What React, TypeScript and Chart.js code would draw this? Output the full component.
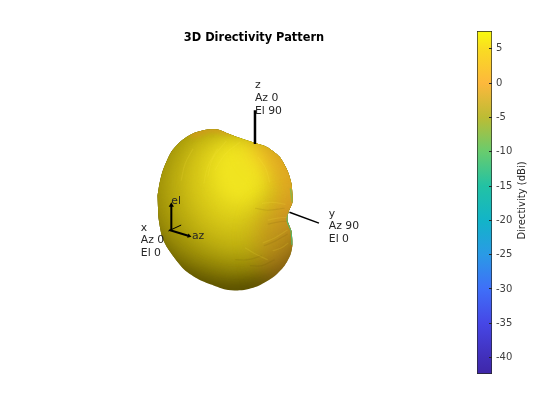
import React, { useEffect, useRef } from "react";
import { Chart, registerables } from "chart.js";

type P = [number, number];

const chartTitle = "3D Directivity Pattern";
const colorbarLabel = "Directivity (dBi)";
const dbMin = -42.4;
const dbMax = 7.6;
const tickValues = [-40, -35, -30, -25, -20, -15, -10, -5, 0, 5];
const colormapDb = [-42.4, -40, -35, -30, -25, -20, -15, -10, -5, 0, 5, 7.6];
const colormapColors = ["#3e26a8", "#412fba", "#4647e6", "#3f6ff8", "#2a9ae6", "#12b4c8", "#22c2a4", "#68cc6e", "#bcbc34", "#fdb83c", "#f9dc22", "#f9fb0e"];

const silhouette: P[] = [[156, 197], [156.5, 210], [157, 220], [161, 240], [168, 253], [183, 272], [198, 282], [213, 288], [225, 292], [240, 293], [257, 289], [273, 280], [285, 268], [291, 257], [293, 247], [292, 233], [288, 222], [289, 214], [293, 204], [292, 185], [288, 172], [280, 158], [267, 148], [255, 144], [238, 138.5], [226, 134], [217, 130.5], [207, 130.5], [193, 134], [180, 142], [170, 153], [161, 173], [158, 185]];

const shadeA: P[] = [[140, 195], [148, 230], [168, 262], [195, 276], [225, 284], [255, 280], [282, 264], [305, 240], [302, 170], [280, 140], [225, 120], [190, 120], [150, 155]];
const shadeB: P[] = [[142, 190], [158, 232], [178, 254], [210, 268], [245, 272], [275, 258], [305, 225], [305, 165], [280, 140], [225, 118], [190, 115], [148, 150]];
const shadeC: P[] = [[160, 185], [168, 218], [190, 244], [218, 258], [250, 260], [278, 244], [298, 205], [296, 165], [270, 142], [238, 128], [205, 126], [176, 142]];
const shadeD: P[] = [[176, 180], [184, 212], [206, 238], [238, 248], [268, 234], [286, 195], [276, 158], [248, 138], [216, 134], [190, 148]];
const shadeE: P[] = [[194, 175], [202, 206], [228, 226], [258, 216], [274, 180], [260, 150], [232, 140], [204, 150]];
const highlight: P[] = [[212, 168], [218, 194], [240, 206], [262, 190], [262, 160], [244, 146], [222, 150]];
const orangeTop: P[] = [[262, 136], [306, 160], [306, 222], [282, 224], [278, 192], [268, 168], [250, 148]];
const brownRight: P[] = [[262, 212], [304, 206], [304, 270], [270, 288], [260, 264], [256, 234]];
const orangeCap: P[] = [[186, 126], [232, 120], [234, 135], [210, 134], [190, 139]];

const greenEdge: P[] = [[290, 214], [288, 222], [292, 233], [293, 247]];
const greenTop: P[] = [[291, 190], [293, 204]];

const brightRipples: P[][] = [
  [[217, 150], [207, 168], [203, 185]],
  [[226, 142], [212, 160], [207, 178]],
  [[263, 245], [275, 240], [288, 232]],
  [[268, 222], [278, 220], [288, 219]],
  [[273, 253], [282, 250], [289, 245]],
  [[240, 143], [225, 155], [214, 172]],
  [[245, 250], [255, 256], [268, 262]],
  [[258, 158], [266, 170], [270, 184]],
  [[192, 150], [184, 165], [180, 182]],
  [[262, 205], [272, 204], [286, 206]],
];
const darkRipples: P[][] = [
  [[264, 248], [276, 243], [288, 236]],
  [[268, 226], [278, 224], [288, 223]],
  [[250, 268], [262, 268], [275, 262]],
  [[235, 262], [248, 262], [262, 258]],
  [[255, 210], [268, 212], [285, 210]],
];

const zAxisLine: P[] = [[255, 111], [255, 145]];
const yAxisLine: P[] = [[290, 214], [320, 225]];
const elArrow: P[] = [[170, 232], [170, 207]];
const azArrow: P[] = [[168, 232], [188, 238]];
const xStub: P[] = [[167, 233], [180, 227]];

const labelFont = "10.8px 'DejaVu Sans'";
const labels: { text: string; x: number; y: number }[] = [
  { text: "z", x: 255, y: 86 },
  { text: "Az 0", x: 255, y: 98.5 },
  { text: "El 90", x: 255, y: 111.5 },
  { text: "y", x: 330, y: 216 },
  { text: "Az 90", x: 330, y: 228.5 },
  { text: "El 0", x: 330, y: 241 },
  { text: "x", x: 139, y: 230 },
  { text: "Az 0", x: 139, y: 242.5 },
  { text: "El 0", x: 139, y: 255 },
  { text: "el", x: 170, y: 202.5 },
  { text: "az", x: 191, y: 238.5 },
];

const toXY = (pts: P[]) => pts.map(([x, y]) => ({ x, y }));

// must run before the filler plugin so that blur and clip apply to the fill
const shadePlugin = {
  id: "shadeClip",
  beforeDatasetDraw(chart: any, args: any) {
    const ds = chart.data.datasets[args.index];
    if (!ds.blur) return;
    const ctx = chart.ctx;
    ctx.save();
    ctx.beginPath();
    chart.getDatasetMeta(0).dataset.path(ctx);
    ctx.closePath();
    ctx.clip();
    ctx.filter = `blur(${ds.blur}px)`;
  },
  afterDatasetDraw(chart: any, args: any) {
    const ds = chart.data.datasets[args.index];
    if (!ds.blur) return;
    chart.ctx.restore();
  },
};

const labelPlugin = {
  id: "viewLabels",
  afterDatasetsDraw(chart: any) {
    const { x, y } = chart.scales;
    const ctx = chart.ctx;
    ctx.save();
    ctx.font = labelFont;
    ctx.fillStyle = "#262626";
    ctx.textBaseline = "middle";
    ctx.textAlign = "left";
    labels.forEach((l) => ctx.fillText(l.text, x.getPixelForValue(l.x), y.getPixelForValue(l.y)));
    ctx.restore();
  },
};

const colorbarTitlePlugin = {
  id: "colorbarTitle",
  afterDraw(chart: any) {
    const ctx = chart.ctx;
    const { y } = chart.scales;
    ctx.save();
    ctx.translate(52, (y.top + y.bottom) / 2 - 2);
    ctx.rotate(-Math.PI / 2);
    ctx.font = "10px 'DejaVu Sans'";
    ctx.fillStyle = "#262626";
    ctx.textAlign = "center";
    ctx.textBaseline = "middle";
    ctx.fillText(colorbarLabel, 0, 0);
    ctx.restore();
  },
};

Chart.register(shadePlugin);
Chart.register(...registerables);

const fillSet = (pts: P[], color: string, blur: number, tension = 0.35) => ({
  data: toXY([...pts, pts[0]]),
  backgroundColor: color,
  borderWidth: 0,
  pointRadius: 0,
  showLine: true,
  fill: "shape",
  tension,
  blur,
});
const strokeSet = (pts: P[], color: string, width: number, blur = 0) => ({
  data: toXY(pts),
  borderColor: color,
  borderWidth: width,
  pointRadius: 0,
  showLine: true,
  fill: false,
  tension: 0.4,
  blur,
});

export default function App() {
  const mainRef = useRef<HTMLCanvasElement>(null);
  const barRef = useRef<HTMLCanvasElement>(null);

  useEffect(() => {
    const layers: any[] = [
      fillSet(silhouette, "#5c5200", 0, 0.25),
      fillSet(shadeA, "#7c7004", 7),
      fillSet(shadeB, "#9c8e08", 8),
      fillSet(shadeC, "#b4a60e", 9),
      fillSet(shadeD, "#ccbc14", 9),
      fillSet(shadeE, "#e0d21a", 9),
      fillSet(highlight, "#f0e420", 8),
      fillSet(orangeTop, "rgba(255,165,50,0.58)", 11),
      fillSet(brownRight, "rgba(205,125,45,0.42)", 11),
      fillSet(orangeCap, "rgba(230,150,40,0.45)", 2),
      ...darkRipples.map((r) => strokeSet(r, "rgba(80,60,0,0.1)", 1.2, 0.6)),
      ...brightRipples.map((r) => strokeSet(r, "rgba(255,235,70,0.15)", 1.2, 0.6)),
      strokeSet(greenEdge, "rgba(70,190,120,0.9)", 2, 0.4),
      strokeSet(greenTop, "rgba(110,190,90,0.7)", 1.5, 0.4),
      { ...strokeSet(zAxisLine, "#000", 2.5), tension: 0 },
      { ...strokeSet(yAxisLine, "#000", 1.5), tension: 0 },
      { ...strokeSet(xStub, "#000", 1), tension: 0 },
      { ...strokeSet(elArrow, "#000", 2), tension: 0, pointRadius: [0, 3], pointStyle: "triangle", pointBackgroundColor: "#000", pointBorderWidth: 0 },
      { ...strokeSet(azArrow, "#000", 2), tension: 0, pointRadius: [0, 2.5], pointStyle: "triangle", pointRotation: 107, pointBackgroundColor: "#000", pointBorderWidth: 0 },
    ];
    layers.forEach((d, i) => (d.order = layers.length - i));

    const main = new Chart(mainRef.current!, {
      type: "scatter",
      data: { datasets: layers },
      options: {
        animation: false,
        responsive: false,
        layout: { padding: 0 },
        plugins: {
          legend: { display: false },
          tooltip: { enabled: false },
          title: {
            display: true,
            text: chartTitle,
            color: "#000",
            font: { family: "'DejaVu Sans'", size: 11.4, weight: "bold" },
            padding: { top: 31, bottom: 5.3 },
          },
        },
        scales: {
          x: { type: "linear", min: 0, max: 508, display: false },
          y: { type: "linear", min: 50, max: 420, reverse: true, display: false },
        },
      },
      plugins: [labelPlugin],
    } as any);

    const bar = new Chart(barRef.current!, {
      type: "bar",
      data: {
        labels: [colorbarLabel],
        datasets: [
          {
            data: [[dbMin, dbMax]],
            barPercentage: 1,
            categoryPercentage: 1,
            borderColor: "#262626",
            borderWidth: 1,
            borderSkipped: false,
            backgroundColor: (c: any) => {
              const { chart } = c;
              const sy = chart.scales.y;
              if (!chart.chartArea || !sy) return colormapColors[0];
              const g = chart.ctx.createLinearGradient(0, sy.getPixelForValue(dbMin), 0, sy.getPixelForValue(dbMax));
              colormapDb.forEach((v, i) => g.addColorStop((v - dbMin) / (dbMax - dbMin), colormapColors[i]));
              return g;
            },
          },
        ],
      },
      options: {
        animation: false,
        responsive: false,
        layout: { padding: { top: 31, bottom: 46, left: 7, right: 0 } },
        plugins: { legend: { display: false }, tooltip: { enabled: false } },
        scales: {
          x: { display: false },
          y: {
            position: "right",
            min: dbMin,
            max: dbMax,
            afterBuildTicks: (s: any) => {
              s.ticks = tickValues.map((value) => ({ value }));
            },
            afterFit: (s: any) => {
              s.width = 68;
            },
            border: { display: false },
            grid: { drawOnChartArea: false, tickLength: -3, color: "#262626", z: 2 },
            ticks: {
              autoSkip: false,
              padding: 7,
              color: "#404040",
              font: { family: "'DejaVu Sans'", size: 10 },
            },
          },
        },
      },
      plugins: [colorbarTitlePlugin],
    } as any);

    return () => {
      main.destroy();
      bar.destroy();
    };
  }, []);

  return (
    <div style={{ position: "fixed", left: 0, top: 0, width: 560, height: 420, background: "#fff" }}>
      <canvas ref={mainRef} width={508} height={420} style={{ position: "absolute", left: 0, top: 0 }} />
      <canvas ref={barRef} width={90} height={420} style={{ position: "absolute", left: 470, top: 0 }} />
    </div>
  );
}
